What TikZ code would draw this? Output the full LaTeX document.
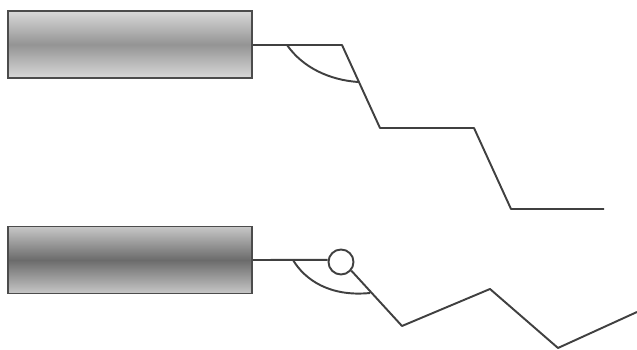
\documentclass[tikz,border=0pt]{standalone}
\usepackage{tikz}
\usetikzlibrary{positioning}

\begin{document}
\begin{tikzpicture}[
  x=0.02cm, y=-0.02cm,
  plate/.style={draw=black!70, line width=1pt, minimum width=4.88cm, minimum height=1.34cm, inner sep=0pt},
  plateLight/.style={plate, top color=black!15, bottom color=black!15, middle color=black!42},
  plateDark/.style={plate, top color=black!22, bottom color=black!22, middle color=black!58},
  wire/.style={draw=black!75, line width=1.1pt, line join=round},
  hinge/.style={draw=black!75, line width=1.1pt, circle, fill=white, minimum size=0.5cm, inner sep=0pt}
]
\useasboundingbox (0,0) rectangle (637,350);

% upper line
\node[plateLight] (plateA) at (130,44.5) {};
\coordinate (a1) at (342,45);
\coordinate (a2) at (380,128);
\coordinate (a3) at (474,128);
\coordinate (a4) at (511,209);
\coordinate (a5) at (604,209);
\coordinate (arcA1) at (287,45);
\coordinate (arcA2) at (358,82);

\draw[wire] (plateA.east |- a1) -- (a1) -- (a2) -- (a3) -- (a4) -- (a5);
\draw[wire] (arcA1) .. controls (303,68) and (330,80) .. (arcA2);

% lower line
\node[plateDark] (plateB) at (130,260) {};
\node[hinge] (hingeB) at (341,262) {};
\coordinate (b1) at (402,326);
\coordinate (b2) at (490,289);
\coordinate (b3) at (558,348);
\coordinate (b4) at (637,312);
\coordinate (arcB1) at (293,260);
\coordinate (arcB2) at (370,293);

\draw[wire] (plateB.east) -- (hingeB.171);
\draw[wire] (hingeB.-40) -- (b1) -- (b2) -- (b3) -- (b4);
\draw[wire] (arcB1) .. controls (305,280) and (330,297) .. (arcB2);
\end{tikzpicture}
\end{document}
